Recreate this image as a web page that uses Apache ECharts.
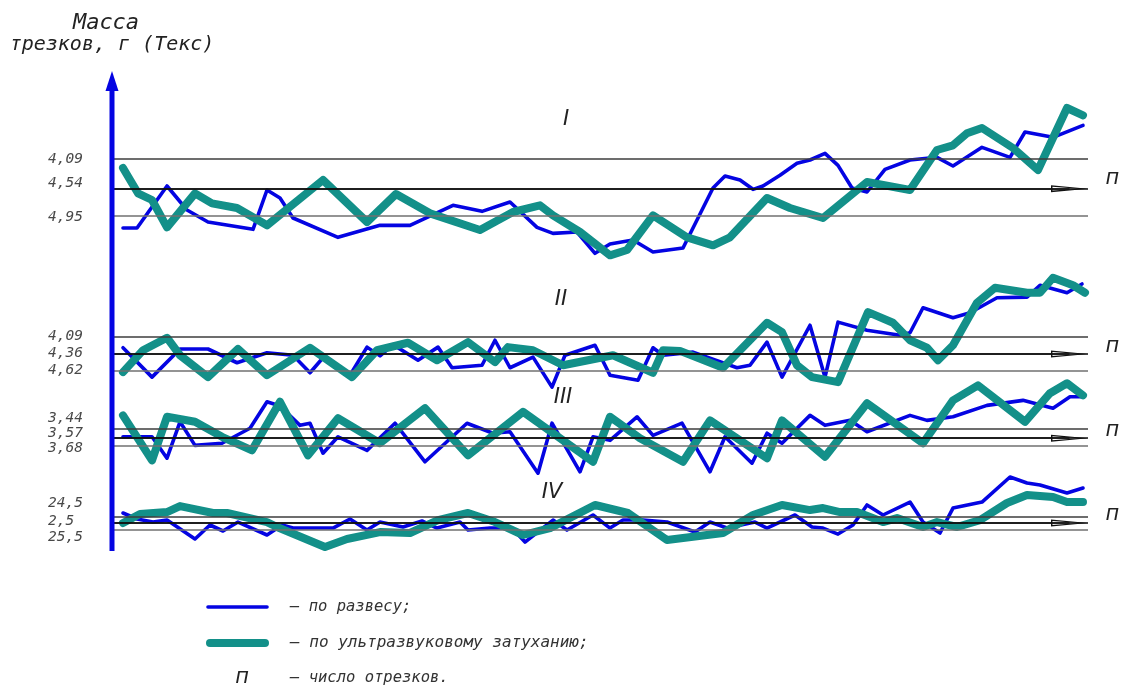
<!DOCTYPE html>
<html>
<head>
<meta charset="utf-8">
<script src="https://cdn.jsdelivr.net/npm/echarts@6/dist/echarts.min.js"></script>
<style>
  html, body { margin: 0; padding: 0; background: #ffffff; }
  #chart { width: 1122px; height: 688px; }
</style>
</head>
<body>
<div id="chart"></div>
<script>
// ---- Reference levels of each panel (mass, Tex) and their printed labels ----
const levelsI = [4.09, 4.54, 4.95];
const levelLabelsI = ['4,09', '4,54', '4,95'];
const levelsII = [4.09, 4.36, 4.62];
const levelLabelsII = ['4,09', '4,36', '4,62'];
const levelsIII = [3.44, 3.57, 3.68];
const levelLabelsIII = ['3,44', '3,57', '3,68'];
const levelsIV = [24.5, 25.0, 25.5];
const levelLabelsIV = ['24,5', '2,5', '25,5'];

// ---- Measured mass along the sliver: [position n, mass] ----
// "по развесу" (by weighing)
const weighI = [[1.0,5.13],[2.4,5.13],[5.4,4.50],[7.4,4.86],[9.5,5.04],[14.0,5.15],[15.4,4.56],[16.7,4.68],[18.0,4.98],[22.5,5.27],[26.7,5.09],[29.7,5.09],[34.0,4.79],[36.9,4.88],[39.7,4.74],[42.4,5.12],[44.0,5.21],[46.4,5.19],[48.2,5.51],[49.7,5.37],[52.0,5.31],[54.0,5.49],[57.0,5.43],[60.0,4.53],[61.2,4.35],[62.7,4.41],[64.0,4.55],[65.0,4.50],[66.7,4.34],[68.4,4.16],[69.7,4.11],[71.2,4.01],[72.5,4.19],[73.9,4.53],[75.4,4.59],[77.2,4.25],[79.7,4.11],[82.4,4.07],[84.0,4.20],[86.9,3.92],[89.7,4.07],[91.2,3.69],[94.0,3.77],[97.0,3.59]];
const weighII = [[1.0,4.26],[3.9,4.73],[6.7,4.28],[9.5,4.28],[12.4,4.50],[15.4,4.34],[18.0,4.38],[19.7,4.66],[21.0,4.42],[23.7,4.70],[25.4,4.25],[26.7,4.39],[28.0,4.21],[30.5,4.46],[32.5,4.25],[33.9,4.58],[36.9,4.54],[38.2,4.14],[39.7,4.58],[42.0,4.41],[43.9,4.89],[45.2,4.38],[48.2,4.22],[49.7,4.70],[52.5,4.78],[54.0,4.26],[55.0,4.38],[58.0,4.33],[62.4,4.58],[63.7,4.54],[65.4,4.17],[66.9,4.73],[69.7,3.90],[71.2,4.73],[72.5,3.85],[75.4,3.98],[78.7,4.06],[79.7,4.02],[81.0,3.62],[84.0,3.78],[85.7,3.70],[88.4,3.46],[91.4,3.45],[92.7,3.26],[95.4,3.38],[96.9,3.24]];
const weighIII = [[1.0,3.55],[3.9,3.55],[5.4,3.85],[6.7,3.34],[8.2,3.67],[10.9,3.64],[13.7,3.43],[15.4,3.06],[16.7,3.12],[18.7,3.39],[19.7,3.36],[21.0,3.78],[22.5,3.55],[25.4,3.74],[28.2,3.36],[31.2,3.90],[35.4,3.36],[38.0,3.50],[39.7,3.48],[42.5,4.06],[43.9,3.36],[46.7,4.04],[48.0,3.55],[49.7,3.60],[52.4,3.27],[54.0,3.53],[56.9,3.36],[59.7,4.04],[61.2,3.55],[63.9,3.92],[65.4,3.50],[66.9,3.64],[69.7,3.25],[71.2,3.39],[73.7,3.32],[75.4,3.48],[79.7,3.25],[81.4,3.32],[84.0,3.27],[87.4,3.11],[91.0,3.04],[94.0,3.15],[95.7,2.99],[97.0,2.99]];
const weighIV = [[1.0,24.25],[2.4,24.70],[4.0,24.93],[5.4,24.78],[8.2,26.20],[9.7,25.15],[11.0,25.60],[12.5,24.93],[15.4,25.90],[16.9,25.15],[18.0,25.38],[22.0,25.38],[23.7,24.70],[25.4,25.53],[26.7,24.93],[29.0,25.30],[30.9,24.85],[32.4,25.38],[34.7,24.93],[35.5,25.53],[37.7,25.38],[39.9,25.38],[41.2,26.43],[44.0,24.78],[45.4,25.53],[48.0,24.40],[49.7,25.38],[51.0,24.78],[53.0,24.78],[55.4,24.93],[58.2,25.68],[59.7,24.93],[61.4,25.38],[64.2,24.93],[65.4,25.38],[68.2,24.40],[69.9,25.30],[71.0,25.38],[72.5,25.83],[74.0,25.15],[75.4,23.65],[77.0,24.40],[79.7,23.43],[81.0,24.93],[82.7,25.75],[84.0,23.88],[86.9,23.43],[89.7,21.55],[91.4,22.00],[92.7,22.15],[95.4,22.75],[97.0,22.38]];

// "по ультразвуковому затуханию" (by ultrasonic attenuation)
const ultraI = [[1.0,4.23],[2.5,4.61],[3.9,4.71],[5.4,5.12],[8.2,4.61],[9.9,4.76],[12.4,4.83],[15.4,5.09],[21.0,4.41],[25.4,5.04],[28.3,4.62],[31.7,4.91],[36.7,5.16],[40.0,4.89],[42.7,4.79],[44.0,4.94],[46.7,5.19],[49.7,5.54],[51.4,5.46],[54.0,4.94],[57.4,5.27],[60.0,5.39],[61.7,5.27],[65.4,4.68],[67.7,4.83],[71.0,4.98],[75.4,4.44],[79.7,4.56],[82.4,3.96],[84.0,3.89],[85.4,3.71],[86.9,3.63],[90.0,3.93],[92.5,4.26],[95.4,3.33],[97.0,3.44]];
const ultraII = [[1.0,4.65],[3.0,4.30],[5.4,4.10],[6.7,4.38],[9.5,4.73],[12.5,4.28],[15.4,4.70],[19.7,4.26],[23.9,4.73],[26.4,4.30],[29.5,4.18],[32.4,4.46],[35.5,4.17],[38.2,4.49],[39.5,4.25],[42.0,4.30],[45.0,4.54],[50.0,4.38],[54.0,4.66],[55.0,4.30],[56.7,4.31],[61.0,4.58],[65.4,3.86],[66.9,4.01],[68.4,4.54],[69.9,4.73],[72.5,4.81],[75.5,3.69],[78.0,3.86],[79.7,4.14],[81.4,4.26],[82.5,4.46],[84.0,4.22],[86.4,3.54],[88.2,3.30],[91.4,3.38],[92.7,3.38],[94.0,3.14],[96.0,3.26],[97.2,3.38]];
const ultraIII = [[1.0,3.25],[3.9,3.88],[5.4,3.27],[8.2,3.34],[10.9,3.55],[13.9,3.74],[16.7,3.06],[19.5,3.81],[22.5,3.29],[26.7,3.64],[31.2,3.15],[35.5,3.81],[41.0,3.20],[48.0,3.90],[49.7,3.27],[52.7,3.57],[57.0,3.90],[59.7,3.32],[65.4,3.85],[66.9,3.32],[71.2,3.83],[75.4,3.08],[81.0,3.64],[84.0,3.04],[86.5,2.83],[91.2,3.34],[93.7,2.94],[95.4,2.80],[97.0,2.97]];
const ultraIV = [[1.0,25.00],[2.7,24.33],[5.4,24.18],[6.7,23.73],[10.0,24.25],[11.4,24.25],[15.4,24.93],[16.4,25.30],[21.2,26.80],[23.4,26.20],[26.7,25.68],[29.7,25.75],[32.5,24.78],[35.5,24.25],[38.2,24.93],[41.0,25.90],[43.7,25.38],[48.2,23.65],[51.5,24.25],[55.4,26.28],[61.0,25.75],[64.0,24.40],[66.9,23.65],[69.7,24.03],[71.0,23.88],[72.7,24.18],[74.4,24.18],[77.0,24.93],[78.4,24.63],[81.0,25.30],[82.4,24.93],[84.4,25.30],[86.7,24.78],[89.4,23.50],[91.4,22.90],[94.0,23.05],[95.4,23.43],[97.0,23.43]];

const panelNames = ['I', 'II', 'III', 'IV'];

// ---- Styling / layout ----
const FONT = '"DejaVu Sans Mono", monospace';
const SANS = '"DejaVu Sans", sans-serif';
const BLUE = '#0404e2';
const TEAL = '#139089';
const LEVEL_COLORS = ['#3c3c3c', '#111111', '#707070'];
const X_MAX = 97.5;                 // length of the n axis
const PLOT_LEFT = 113, PLOT_WIDTH = 975;

// Each panel gets its own vertical scale: [min, max, anchor value, anchor px, px per unit]
const panelScales = [
  { min: 3.2,  max: 5.6,  anchor: 4.53, at: 188,   ppu: 66.6667 },
  { min: 3.0,  max: 5.0,  anchor: 4.36, at: 354,   ppu: 62.5 },
  { min: 2.6,  max: 4.2,  anchor: 3.56, at: 437.5, ppu: 71.4286 },
  { min: 21.0, max: 27.5, anchor: 25.0, at: 523,   ppu: 13.3333 }
];
// vertical nudges of the level labels and the "п" marks
const labelShift = [[1, -5, 1], [-1, -1, 0], [-11, -5, 2], [-13, -2, 8]];
const nShift = [-10, -7, -8, -8];
const romanPos = [[566, 120], [561, 300], [563, 398], [552, 493]];

const panels = [
  { weigh: weighI,   ultra: ultraI,   levels: levelsI,   labels: levelLabelsI },
  { weigh: weighII,  ultra: ultraII,  levels: levelsII,  labels: levelLabelsII },
  { weigh: weighIII, ultra: ultraIII, levels: levelsIII, labels: levelLabelsIII },
  { weigh: weighIV,  ultra: ultraIV,  levels: levelsIV,  labels: levelLabelsIV }
];

// narrow outlined arrowhead (points up; markLine turns it along the line)
const ARROW = 'path://M4,0 L8,38 L0,38 Z M4,10 L1.8,36.5 L6.2,36.5 Z';

const labelFont = { fontFamily: FONT, fontStyle: 'italic', fontWeight: 'normal', color: '#484848' };

const grids = [], xAxes = [], yAxes = [], series = [];

panels.forEach((p, i) => {
  const s = panelScales[i];
  grids.push({
    left: PLOT_LEFT, width: PLOT_WIDTH,
    top: s.at + (s.min - s.anchor) * s.ppu,
    height: (s.max - s.min) * s.ppu
  });
  xAxes.push({ gridIndex: i, type: 'value', min: 0, max: X_MAX, show: false });
  yAxes.push({ gridIndex: i, type: 'value', min: s.min, max: s.max, inverse: true, show: false });

  const levelLines = p.levels.map((v, k) => ({
    yAxis: v,
    lineStyle: { color: LEVEL_COLORS[k], width: 1.5, type: 'solid' },
    label: {
      show: true, position: 'start', formatter: p.labels[k],
      align: 'left', distance: 65, offset: [0, labelShift[i][k]],
      fontSize: 14.5, ...labelFont
    }
  }));
  const mid = p.levels[1];
  const nLine = [
    { coord: [0, mid], symbol: 'none' },
    {
      coord: [X_MAX - 1.85, mid], symbol: ARROW, symbolSize: [7, 37],
      lineStyle: { color: LEVEL_COLORS[1], width: 1.5, type: 'solid' },
      label: {
        show: true, position: 'end', formatter: 'п', align: 'left',
        distance: 36, offset: [0, nShift[i]], fontSize: 21, ...labelFont,
        fontFamily: SANS, color: '#222'
      }
    }
  ];

  series.push({
    name: 'Уровни ' + panelNames[i], type: 'line', xAxisIndex: i, yAxisIndex: i,
    data: [], z: 1, silent: true,
    markLine: { silent: true, symbol: 'none', animation: false, data: [...levelLines, nLine] }
  });
  series.push({
    name: 'по развесу', type: 'line', xAxisIndex: i, yAxisIndex: i, data: p.weigh,
    showSymbol: false, z: 2, silent: true,
    lineStyle: { color: BLUE, width: 3.6, join: 'round', cap: 'round' }
  });
  series.push({
    name: 'по ультразвуковому затуханию', type: 'line', xAxisIndex: i, yAxisIndex: i, data: p.ultra,
    showSymbol: false, z: 3, silent: true,
    lineStyle: { color: TEAL, width: 8, join: 'round', cap: 'round' }
  });
});

const textStyle = (extra) => Object.assign({
  fontFamily: FONT, fontStyle: 'italic', fontWeight: 'normal', fill: '#222',
  textAlign: 'center', textVerticalAlign: 'middle'
}, extra);

const graphics = [
  // vertical axis with arrow
  { type: 'line', shape: { x1: 112, y1: 86, x2: 112, y2: 551 }, style: { stroke: BLUE, lineWidth: 5 }, z: 10 },
  { type: 'polygon', shape: { points: [[112, 71], [118.5, 91], [105.5, 91]] }, style: { fill: BLUE }, z: 10 },
  // axis title
  { type: 'text', style: textStyle({ text: 'Масса', x: 106, y: 23, fontSize: 22 }) },
  { type: 'text', style: textStyle({ text: 'трезков, г (Текс)', x: 112, y: 45, fontSize: 20 }) },
  // legend
  { type: 'line', shape: { x1: 208, y1: 607, x2: 267, y2: 607 }, style: { stroke: BLUE, lineWidth: 3.6, lineCap: 'round' } },
  { type: 'line', shape: { x1: 210, y1: 643, x2: 265, y2: 643 }, style: { stroke: TEAL, lineWidth: 8, lineCap: 'round' } },
  { type: 'text', style: textStyle({ text: 'п', x: 242, y: 678, fontSize: 21, fontFamily: SANS }) },
  { type: 'text', style: textStyle({ text: '– по развесу;', x: 290, y: 607, fontSize: 15.5, textAlign: 'left', fill: '#333' }) },
  { type: 'text', style: textStyle({ text: '– по ультразвуковому затуханию;', x: 290, y: 643, fontSize: 16, textAlign: 'left', fill: '#333' }) },
  { type: 'text', style: textStyle({ text: '– число отрезков.', x: 290, y: 678, fontSize: 15.5, textAlign: 'left', fill: '#333' }) }
];
panelNames.forEach((nm, i) => {
  graphics.push({ type: 'text', style: textStyle({ text: nm, x: romanPos[i][0], y: romanPos[i][1], fontSize: 21, fontFamily: SANS }) });
});

const chart = echarts.init(document.getElementById('chart'), null, { renderer: 'canvas' });
chart.setOption({
  animation: false,
  backgroundColor: '#ffffff',
  grid: grids,
  xAxis: xAxes,
  yAxis: yAxes,
  series: series,
  graphic: graphics
});
</script>
</body>
</html>
